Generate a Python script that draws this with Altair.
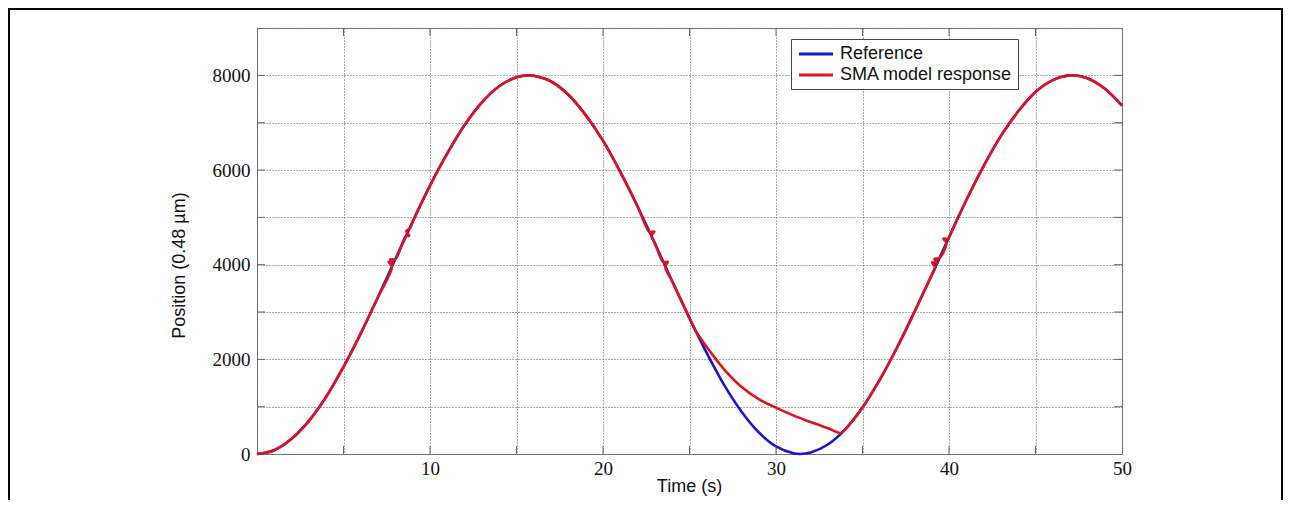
import altair as alt
import pandas as pd

# ---- data ----
ref_t = [0, 1, 2, 3, 4, 5, 6, 7, 8, 9, 10, 11, 12, 13, 14, 15, 15.7, 16, 17, 18, 19, 20,
         21, 22, 23, 24, 25, 26, 27, 28, 29, 30, 31, 31.4, 32, 33, 34, 35, 36, 37, 38, 39,
         40, 41, 42, 43, 44, 45, 46, 47, 48, 49, 50]
ref_v = [0, 80, 320, 700, 1210, 1840, 2550, 3320, 4120, 4910, 5670, 6350, 6950, 7430, 7770,
         7960, 8000, 7990, 7870, 7590, 7160, 6620, 5960, 5230, 4450, 3650, 2870, 2130, 1460,
         900, 460, 160, 15, 0, 30, 200, 520, 980, 1570, 2250, 3000, 3780, 4580, 5360, 6080,
         6720, 7240, 7650, 7900, 8000, 7940, 7720, 7360]

sma_t = [0, 1, 2, 3, 4, 5, 6, 7, 7.8, 7.6, 7.88, 7.7, 8.0, 8.6, 8.8, 8.62, 8.82, 9, 10,
         11, 12, 13, 14, 15, 15.7, 16, 17, 18, 19, 20, 21, 22, 22.7, 22.97, 22.8, 23, 23.5,
         23.74, 23.6, 24, 25, 25.3, 26, 27, 28, 29, 30, 31, 32, 33, 33.75, 34, 35, 36, 37,
         38, 39, 39.2, 39.02, 39.32, 39.16, 39.45, 39.85, 39.68, 39.95, 40, 41, 42, 43, 44,
         45, 46, 47, 48, 49, 50]
sma_v = [0, 80, 320, 700, 1210, 1840, 2550, 3320, 3960, 4060, 4020, 4110, 4120, 4600, 4610,
         4710, 4760, 4910, 5670, 6350, 6950, 7430, 7770, 7960, 8000, 7990, 7870, 7590, 7160,
         6620, 5960, 5230, 4690, 4700, 4610, 4450, 4050, 4060, 3950, 3650, 2870, 2640, 2260,
         1790, 1420, 1160, 980, 815, 675, 545, 445, 520, 980, 1570, 2250, 3000, 3780, 3940,
         4050, 4030, 4120, 4140, 4460, 4550, 4540, 4580, 5360, 6080, 6720, 7240, 7650, 7900,
         8000, 7940, 7720, 7360]

series_names = ["Reference", "SMA model response"]
series_colors = ["#1818c8", "#e01418"]

x_grid = [0, 5, 10, 15, 20, 25, 30, 35, 40, 45, 50]
y_grid = [0, 1000, 2000, 3000, 4000, 5000, 6000, 7000, 8000, 9000]
x_minor = [5, 10, 15, 20, 25, 30, 35, 40, 45]
y_minor = [1000, 2000, 3000, 4000, 5000, 6000, 7000, 8000]

df = pd.concat([
    pd.DataFrame({"t": ref_t, "v": ref_v, "series": series_names[0], "i": range(len(ref_t))}),
    pd.DataFrame({"t": sma_t, "v": sma_v, "series": series_names[1], "i": range(len(sma_t))}),
], ignore_index=True)

W, H = 865, 426

x_scale = alt.Scale(domain=[0, 50], nice=False, zero=False)
y_scale = alt.Scale(domain=[0, 9000], nice=False, zero=False)
color_scale = alt.Scale(domain=series_names, range=series_colors)

x_axis = alt.Axis(
    values=x_grid, format="d",
    labelExpr="datum.value % 10 == 0 && datum.value > 0 ? datum.label : ''",
    grid=True, gridDash=[1, 2], gridColor="#555555", gridOpacity=1,
    ticks=False, domain=False,
    labelFont="Liberation Serif", labelFontSize=19, labelColor="#111111",
    labelPadding=5, labelFlush=False,
    title="Time (s)", titleFont="Liberation Sans", titleFontSize=18,
    titleFontWeight="normal", titleColor="#111111",
    titleX=432, titleY=32, titleAlign="center", titleBaseline="middle",
)
y_axis = alt.Axis(
    values=y_grid, format="d",
    labelExpr="datum.value % 2000 == 0 && datum.value < 9000 ? datum.label : ''",
    grid=True, gridDash=[1, 2], gridColor="#555555", gridOpacity=1,
    ticks=False, domain=False,
    labelFont="Liberation Serif", labelFontSize=19, labelColor="#111111",
    labelPadding=7, labelFlush=False, labelBaseline="middle",
    title="Position (0.48 µm)", titleFont="Liberation Sans", titleFontSize=18,
    titleFontWeight="normal", titleColor="#111111",
    titleAngle=270, titleX=-78, titleY=237, titleAlign="center", titleBaseline="middle",
)
legend = alt.Legend(
    title=None, orient="none", legendX=534, legendY=11, direction="vertical",
    symbolType="M-2,0H2", symbolSize=289, symbolStrokeWidth=3, symbolOffset=10,
    labelFont="Liberation Sans", labelFontSize=18, labelColor="#111111", labelLimit=0,
    labelOffset=14, padding=5, rowPadding=2,
    strokeColor="#444444", fillColor="white",
)

base = alt.Chart(df)
enc = dict(
    x=alt.X("t:Q", scale=x_scale, axis=x_axis),
    y=alt.Y("v:Q", scale=y_scale, axis=y_axis),
    color=alt.Color("series:N", scale=color_scale, legend=legend),
    order=alt.Order("i:Q"),
)
blue = base.transform_filter(alt.datum.series == series_names[0]).mark_line(
    strokeWidth=2.6, strokeJoin="round", interpolate="catmull-rom").encode(**enc)
red = base.transform_filter(alt.datum.series == series_names[1]).mark_line(
    strokeWidth=2.6, strokeJoin="round", interpolate="catmull-rom").encode(**enc)

xt_df = pd.DataFrame({"t": x_minor})
yt_df = pd.DataFrame({"v": y_minor})
tick_col = "#666666"
xt_bot = alt.Chart(xt_df).mark_rule(color=tick_col, strokeWidth=1).encode(
    x=alt.X("t:Q", scale=x_scale, axis=x_axis), y=alt.value(H), y2=alt.value(H - 8))
xt_top = alt.Chart(xt_df).mark_rule(color=tick_col, strokeWidth=1).encode(
    x=alt.X("t:Q", scale=x_scale, axis=x_axis), y=alt.value(0), y2=alt.value(8))
yt_left = alt.Chart(yt_df).mark_rule(color=tick_col, strokeWidth=1).encode(
    y=alt.Y("v:Q", scale=y_scale, axis=y_axis), x=alt.value(0), x2=alt.value(8))
yt_right = alt.Chart(yt_df).mark_rule(color=tick_col, strokeWidth=1).encode(
    y=alt.Y("v:Q", scale=y_scale, axis=y_axis), x=alt.value(W - 8), x2=alt.value(W))

frame = alt.Chart(pd.DataFrame({"a": [0]})).mark_rect(
    filled=False, stroke="black", strokeWidth=2).encode(
    x=alt.value(-248), x2=alt.value(1025), y=alt.value(-19), y2=alt.value(700))

chart = alt.layer(blue, red, xt_bot, xt_top, yt_left, yt_right, frame).properties(
    width=W, height=H,
    autosize=alt.AutoSizeParams(type="none"),
    padding={"left": 249, "top": 20, "right": 161, "bottom": 46},
    background="white",
).configure_view(stroke="#808080", strokeWidth=1)

chart.save("out.html", embed_options={"renderer": "svg", "actions": False})
